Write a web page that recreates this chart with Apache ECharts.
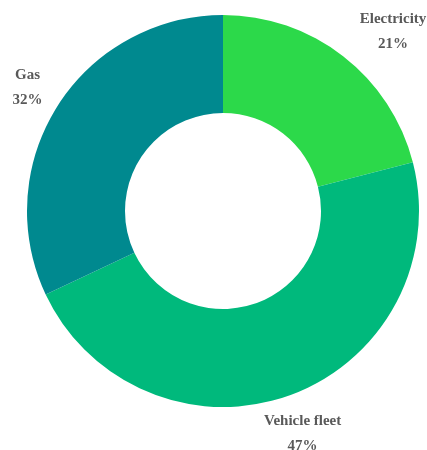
<!DOCTYPE html>
<html>
<head>
<meta charset="utf-8">
<script src="https://cdn.jsdelivr.net/npm/echarts@6/dist/echarts.min.js"></script>
<style>
  html, body { margin: 0; padding: 0; background: #fff; }
  #chart { width: 427px; height: 450px; }
</style>
</head>
<body>
<div id="chart"></div>
<script>
const categories = ['Electricity', 'Vehicle fleet', 'Gas']
const shares = [21, 47, 32]
const colors = ['#2cd94a', '#00b97c', '#00898f']

// small nudges so labels sit where the original put them
const labelShift = [[21, 6], [-5, 2], [8, 3]]

const chart = echarts.init(document.getElementById('chart'))

chart.setOption({
  animation: false,
  series: [
    {
      type: 'pie',
      center: [223, 211],
      radius: [98, 196],
      startAngle: 90,
      clockwise: true,
      avoidLabelOverlap: false,
      data: categories.map((name, i) => ({
        name,
        value: shares[i],
        itemStyle: { color: colors[i] },
      })),
      label: {
        show: true,
        position: 'outside',
        formatter: '{b}\n{c}%',
        fontFamily: 'Liberation Serif',
        fontSize: 15,
        fontWeight: 'bold',
        lineHeight: 25,
        color: '#595959',
        align: 'center',
      },
      labelLine: { show: false, length: 39, length2: 0 },
      labelLayout: (params) => ({
        align: 'center',
        dx: labelShift[params.dataIndex][0],
        dy: labelShift[params.dataIndex][1],
      }),
    },
  ],
})
</script>
</body>
</html>
